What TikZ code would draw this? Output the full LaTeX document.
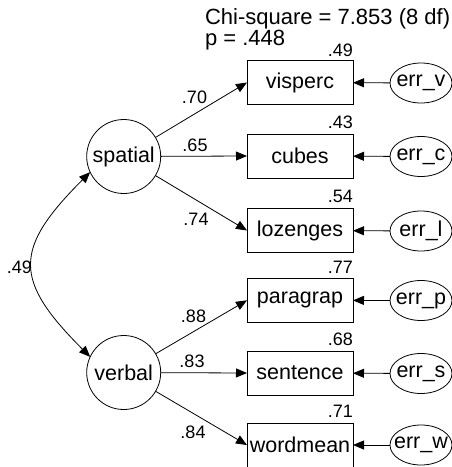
\documentclass[tikz,border=0pt]{standalone}
\usepackage{fontspec}
\setmainfont{Liberation Sans}
\usetikzlibrary{arrows.meta,shapes.geometric}
\begin{document}
\begin{tikzpicture}[x=1pt,y=-1pt,
  every node/.style={inner sep=0pt, outer sep=0pt},
  mainfont/.style={font=\fontsize{21.5}{25}\selectfont},
  titlefont/.style={font=\fontsize{22}{25}\selectfont},
  obs/.style={draw, line width=0.8pt, minimum width=106pt, minimum height=44pt, mainfont},
  lat/.style={draw, circle, line width=0.8pt, minimum size=74pt, mainfont},
  errnode/.style={draw, ellipse, line width=0.8pt, minimum width=62pt, minimum height=40pt, mainfont},
  coef/.style={font=\fontsize{18}{21}\selectfont, anchor=base},
  rsq/.style={font=\fontsize{18}{21}\selectfont, anchor=base east},
  arr/.style={-{Triangle[length=11pt,width=9pt]}, line width=0.8pt},
  dblarr/.style={{Triangle[length=11pt,width=9pt]}-{Triangle[length=11pt,width=9pt]}, line width=0.8pt}
]
\useasboundingbox (0,0) rectangle (452,467);

% title
\node[titlefont, anchor=base west] (chi) at (205,24) {Chi-square = 7.853 (8 df)};
\node[titlefont, anchor=base west] (pval) at (205,45) {p = .448};

% latent variables
\node[lat] (spatial) at (123.7,156.5) {spatial};
\node[lat] (verbal) at (123.7,372.5) {verbal};

% observed variables
\node[obs] (visperc) at (300,82.5) {visperc};
\node[obs] (cubes) at (300,156) {cubes};
\node[obs] (lozenges) at (300,230.5) {lozenges};
\node[obs] (paragrap) at (300,300.3) {paragrap};
\node[obs] (sentence) at (300,373) {sentence};
\node[obs] (wordmean) at (300,445) {wordmean};

% error terms
\node[errnode] (ev) at (421,83) {\makebox[0pt]{err\_v}};
\node[errnode] (ec) at (421,156.5) {\makebox[0pt]{err\_c}};
\node[errnode] (el) at (421,231) {\makebox[0pt]{err\_l}};
\node[errnode] (ep) at (421,300.5) {\makebox[0pt]{err\_p}};
\node[errnode] (es) at (421,373.5) {\makebox[0pt]{err\_s}};
\node[errnode] (ew) at (421,445) {\makebox[0pt]{err\_w}};

% squared multiple correlations
\node[rsq] (r1) at (353,56) {.49};
\node[rsq] (r2) at (353,128.5) {.43};
\node[rsq] (r3) at (353,202.5) {.54};
\node[rsq] (r4) at (353,273) {.77};
\node[rsq] (r5) at (353,345.5) {.68};
\node[rsq] (r6) at (353,417.5) {.71};

% loadings
\draw[arr] (spatial) -- (visperc.west);
\draw[arr] (spatial) -- (cubes.west);
\draw[arr] (spatial) -- (lozenges.west);
\draw[arr] (verbal) -- (paragrap.west);
\draw[arr] (verbal) -- (sentence.west);
\draw[arr] (verbal) -- (wordmean.west);

\node[coef] (c1) at (194.5,103) {.70};
\node[coef] (c2) at (195,151) {.65};
\node[coef] (c3) at (196,225) {.74};
\node[coef] (c4) at (193.5,322) {.88};
\node[coef] (c5) at (192,367) {.83};
\node[coef] (c6) at (193,438) {.84};

% errors
\draw[arr] (ev) -- (visperc);
\draw[arr] (ec) -- (cubes);
\draw[arr] (el) -- (lozenges);
\draw[arr] (ep) -- (paragrap);
\draw[arr] (es) -- (sentence);
\draw[arr] (ew) -- (wordmean);

% correlation
\draw[dblarr] (spatial.205) .. controls +(-77,77) and +(-77,-77) .. (verbal.155);
\node[font=\fontsize{18}{21}\selectfont, anchor=base east] (corr) at (32,273) {.49};
\end{tikzpicture}
\end{document}
